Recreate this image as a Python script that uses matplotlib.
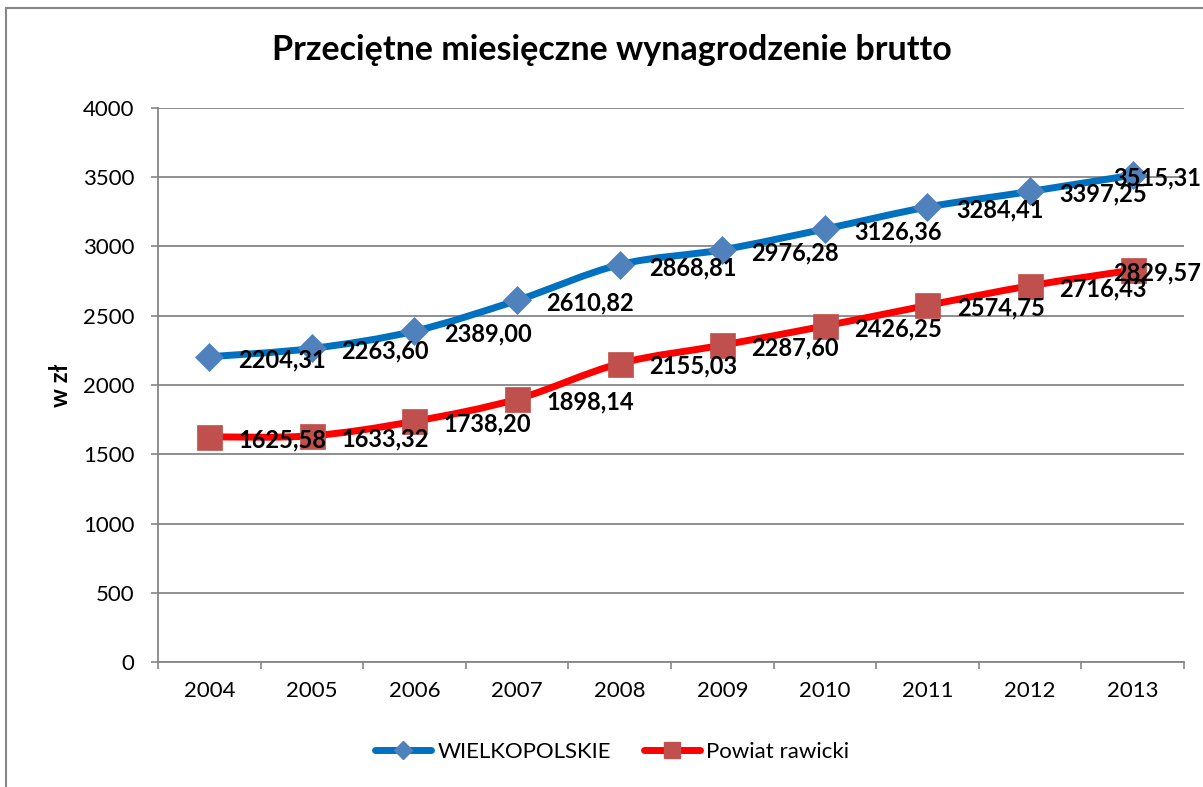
import matplotlib.pyplot as plt
import numpy as np
from matplotlib.path import Path
from matplotlib.patches import PathPatch, Rectangle
from matplotlib.lines import Line2D

plt.rcParams['font.family'] = ['Lato', 'DejaVu Sans']

years = ['2004', '2005', '2006', '2007', '2008', '2009', '2010', '2011', '2012', '2013']
wielkopolskie = [2204.31, 2263.60, 2389.00, 2610.82, 2868.81, 2976.28, 3126.36, 3284.41, 3397.25, 3515.31]
rawicki = [1625.58, 1633.32, 1738.20, 1898.14, 2155.03, 2287.60, 2426.25, 2574.75, 2716.43, 2829.57]

grid_col = '#868686'


def smooth_path(xs, ys):
    # excel-like smoothed line (bezier through the points)
    pts = np.column_stack([xs, ys]).astype(float)
    n = len(pts)
    verts = [pts[0]]
    codes = [Path.MOVETO]
    for i in range(n - 1):
        p0 = pts[i - 1] if i > 0 else pts[i]
        p1 = pts[i]
        p2 = pts[i + 1]
        p3 = pts[i + 2] if i + 2 < n else pts[i + 1]
        verts += [p1 + (p2 - p0) / 6, p2 - (p3 - p1) / 6, p2]
        codes += [Path.CURVE4] * 3
    return Path(verts, codes)


fig = plt.figure(figsize=(12.03, 7.87), dpi=100)
ax = fig.add_axes([0.1313, 0.1588, 0.8529, 0.704])

x = np.arange(len(years))

series = [
    (wielkopolskie, '#0070C0', 'D', 14, '#4F81BD', 'WIELKOPOLSKIE', 9),
    (rawicki, '#FF0000', 's', 18, '#C0504D', 'Powiat rawicki', 12),
]
handles = []
for vals, lc, mk, ms, mc, name, lms in series:
    ax.add_patch(PathPatch(smooth_path(x, vals), fill=False, edgecolor=lc,
                           lw=5, capstyle='round', joinstyle='round', zorder=3))
    ax.plot(x, vals, linestyle='none', marker=mk, ms=ms, mfc=mc, mec=mc,
            mew=0.5, zorder=4)
    for xi, v in zip(x, vals):
        # last label sits on the marker so it stays inside the picture
        dx = -14 if xi == x[-1] else 21
        ax.annotate(f'{v:.2f}'.replace('.', ','), (xi, v), xytext=(dx, -2),
                    textcoords='offset points', ha='left', va='center',
                    fontsize=17, fontweight='bold', color='black', zorder=5,
                    annotation_clip=False)
    handles.append(Line2D([], [], color=lc, lw=5, solid_capstyle='round',
                          marker=mk, ms=lms, mfc=mc, mec=mc, label=name))

ax.set_xlim(-0.5, len(years) - 0.5)
ax.set_ylim(0, 4000)
ax.set_yticks(np.arange(0, 4001, 500))
ax.set_xticks(x)
ax.set_xticklabels(years)
ax.set_xticks(np.arange(-0.5, len(years), 1), minor=True)
ax.tick_params(axis='x', which='major', length=0, pad=14, labelsize=16)
ax.tick_params(axis='x', which='minor', length=5, width=1.2, color=grid_col)
ax.tick_params(axis='y', length=5, width=1.2, color=grid_col, pad=12, labelsize=16)
ax.grid(axis='y', color=grid_col, lw=1.3)
ax.set_axisbelow(True)
for s in ['top', 'right']:
    ax.spines[s].set_visible(False)
for s in ['left', 'bottom']:
    ax.spines[s].set_color(grid_col)
    ax.spines[s].set_linewidth(1.3)

ax.set_ylabel('w zł', fontsize=17, fontweight='bold', labelpad=8)
fig.suptitle('Przeciętne miesięczne wynagrodzenie brutto', fontsize=24.5,
             fontweight='bold', x=0.509, y=0.936, va='center')

fig.legend(handles=handles, loc='center', bbox_to_anchor=(0.509, 0.045),
           ncol=2, frameon=False, fontsize=16, handlelength=2.5,
           handletextpad=0.3, columnspacing=1.5)

fig.patches.append(Rectangle((0.005, -0.05), 1.1, 1.04, transform=fig.transFigure,
                             fill=False, edgecolor=grid_col, lw=1.5))

fig.savefig('out.png', dpi=100)
